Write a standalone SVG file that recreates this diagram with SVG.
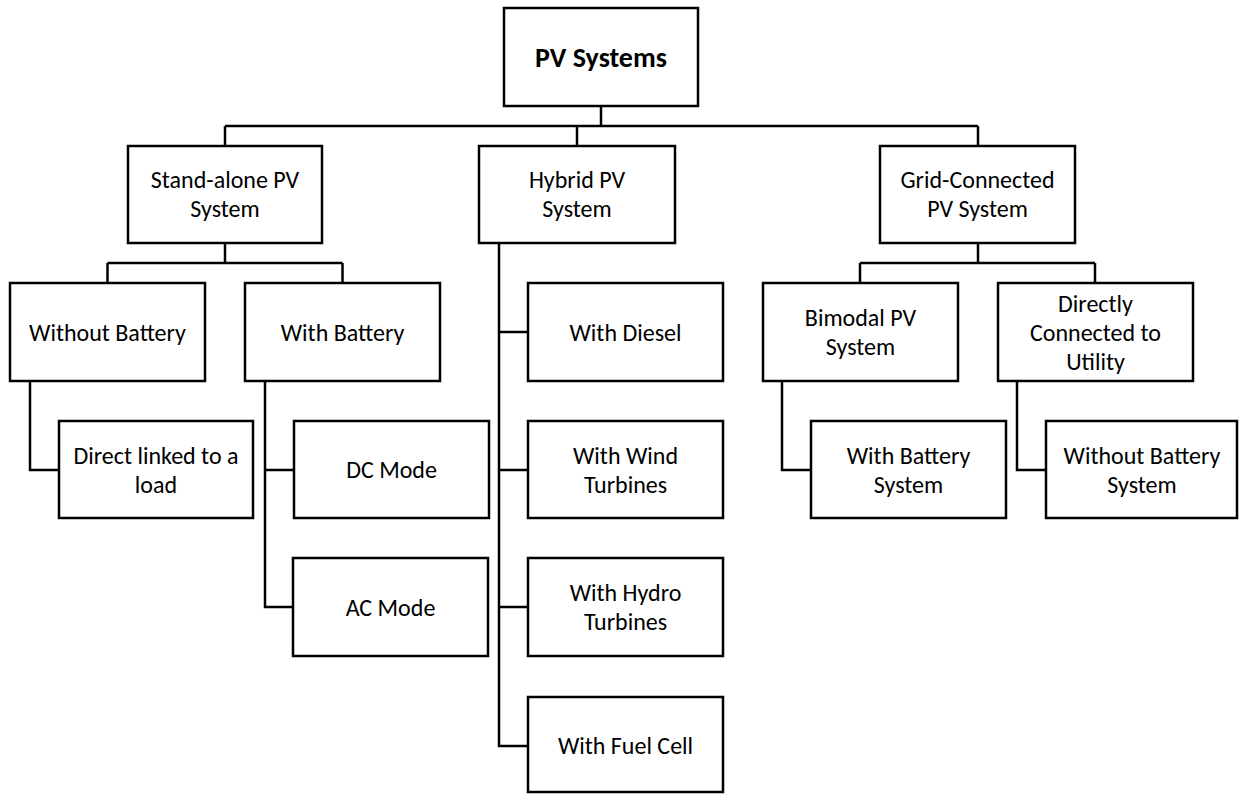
<svg xmlns="http://www.w3.org/2000/svg" width="1239" height="794" viewBox="0 0 1239 794">
<style>
.box{fill:#fff;stroke:#000;stroke-width:2.5}
.t{font-family:Carlito,Lato,"Liberation Sans",sans-serif;font-size:24px;fill:#000;text-anchor:middle}
.b{font-weight:bold;font-size:28px}
.c{fill:none;stroke:#000;stroke-width:2.5}
</style>
<rect width="1239" height="794" fill="#fff"/>
<g id="connectors" class="c">
<path d="M601 106V126M225 126H978M225 126V146M577 126V146M978 126V146"/>
<path d="M225 243V263M107.5 263H342.5M107.5 263V283M342.5 263V283"/>
<path d="M30 381V470H59"/>
<path d="M265 381V607H293M265 470H294"/>
<path d="M499 243V746H528M499 332H528M499 470H528M499 607H528"/>
<path d="M978 243V263M860 263H1095M860 263V283M1095 263V283"/>
<path d="M782 381V470H811M1017 381V470H1046"/>
</g>
<g id="pv"><rect class="box" x="504" y="8" width="194" height="98"/><text class="t b" x="601" y="67">PV Systems</text></g>
<g id="standalone"><rect class="box" x="128" y="146" width="194" height="97"/><text class="t" x="225" y="188">Stand-alone PV</text><text class="t" x="225" y="217">System</text></g>
<g id="hybrid"><rect class="box" x="479" y="146" width="196" height="97"/><text class="t" x="577" y="188">Hybrid PV</text><text class="t" x="577" y="217">System</text></g>
<g id="grid"><rect class="box" x="880" y="146" width="195" height="97"/><text class="t" x="977.5" y="188">Grid-Connected</text><text class="t" x="977.5" y="217">PV System</text></g>
<g id="without-battery"><rect class="box" x="10" y="283" width="195" height="98"/><text class="t" x="107.5" y="341">Without Battery</text></g>
<g id="with-battery"><rect class="box" x="245" y="283" width="195" height="98"/><text class="t" x="342.5" y="341">With Battery</text></g>
<g id="direct-linked"><rect class="box" x="59" y="421" width="194" height="97"/><text class="t" x="156" y="464">Direct linked to a</text><text class="t" x="156" y="493">load</text></g>
<g id="dc-mode"><rect class="box" x="294" y="421" width="195" height="97"/><text class="t" x="391.5" y="478">DC Mode</text></g>
<g id="ac-mode"><rect class="box" x="293" y="558" width="195" height="98"/><text class="t" x="390.5" y="616">AC Mode</text></g>
<g id="diesel"><rect class="box" x="528" y="283" width="195" height="98"/><text class="t" x="625.5" y="341">With Diesel</text></g>
<g id="wind"><rect class="box" x="528" y="421" width="195" height="97"/><text class="t" x="625.5" y="464">With Wind</text><text class="t" x="625.5" y="493">Turbines</text></g>
<g id="hydro"><rect class="box" x="528" y="558" width="195" height="98"/><text class="t" x="625.5" y="601">With Hydro</text><text class="t" x="625.5" y="630">Turbines</text></g>
<g id="fuel-cell"><rect class="box" x="528" y="697" width="195" height="95"/><text class="t" x="625.5" y="754">With Fuel Cell</text></g>
<g id="bimodal"><rect class="box" x="763" y="283" width="195" height="98"/><text class="t" x="860.5" y="326">Bimodal PV</text><text class="t" x="860.5" y="355">System</text></g>
<g id="directly-connected"><rect class="box" x="998" y="283" width="195" height="98"/><text class="t" x="1095.5" y="312">Directly</text><text class="t" x="1095.5" y="341">Connected to</text><text class="t" x="1095.5" y="370">Utility</text></g>
<g id="with-battery-system"><rect class="box" x="811" y="421" width="195" height="97"/><text class="t" x="908.5" y="464">With Battery</text><text class="t" x="908.5" y="493">System</text></g>
<g id="without-battery-system"><rect class="box" x="1046" y="421" width="191" height="97"/><text class="t" x="1142" y="464">Without Battery</text><text class="t" x="1142" y="493">System</text></g>
</svg>
